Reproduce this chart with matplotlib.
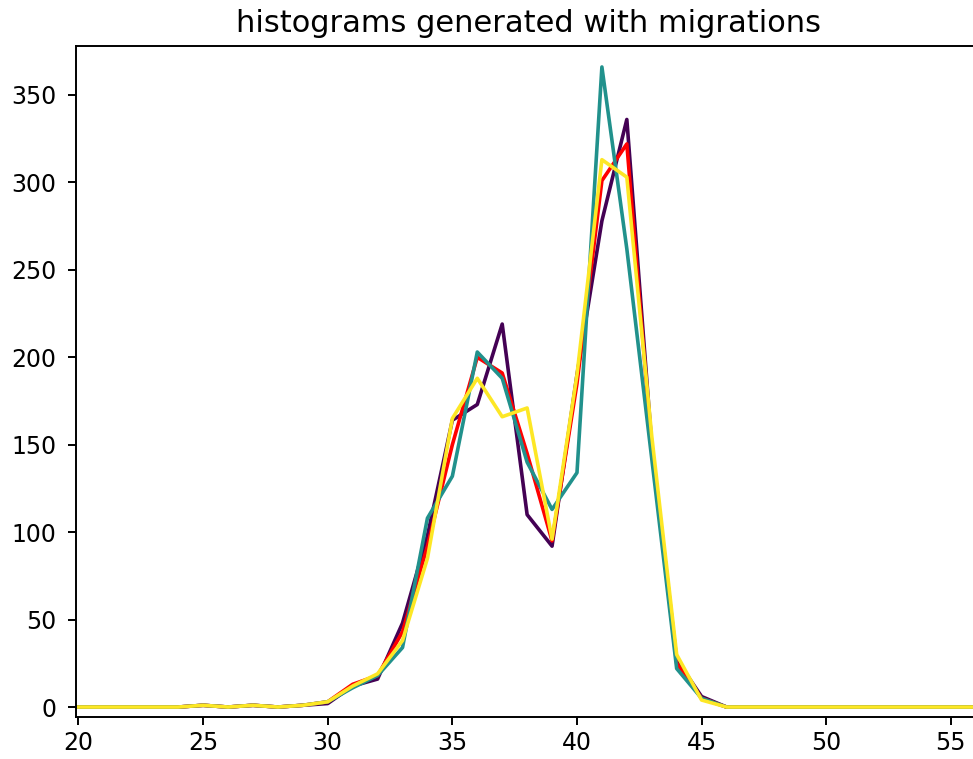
import numpy as np
import matplotlib
matplotlib.use("Agg")
import matplotlib.pyplot as plt

# bins (x) and counts of the four histograms
bins = np.arange(20, 58)

purple = [0, 0, 0, 0, 0, 1, 0, 1, 0, 1,
          2, 12, 16, 48, 98, 164, 173, 219, 110, 92,
          190, 278, 336, 150, 27, 6, 0, 0, 0, 0,
          0, 0, 0, 0, 0, 0, 0, 0]
red = [0, 0, 0, 0, 0, 1, 0, 1, 0, 1,
       3, 13, 18, 43, 92, 150, 200, 191, 145, 95,
       185, 301, 322, 148, 25, 5, 0, 0, 0, 0,
       0, 0, 0, 0, 0, 0, 0, 0]
teal = [0, 0, 0, 0, 0, 1, 0, 1, 0, 1,
        3, 11, 18, 34, 108, 132, 203, 188, 140, 113,
        134, 366, 262, 142, 22, 5, 0, 0, 0, 0,
        0, 0, 0, 0, 0, 0, 0, 0]
yellow = [0, 0, 0, 0, 0, 1, 0, 1, 0, 1,
          3, 12, 19, 38, 85, 165, 188, 166, 171, 96,
          190, 313, 303, 155, 30, 4, 0, 0, 0, 0,
          0, 0, 0, 0, 0, 0, 0, 0]

series = [purple, red, teal, yellow]
colors = ["#440154", "red", "#21918c", "#fde725"]

fig = plt.figure(figsize=(9.73, 7.59), dpi=100)
# axes run a little past the right edge, as in the cropped original
ax = fig.add_axes([76 / 973, 42 / 759, 904 / 973, 671 / 759])

for counts, c in zip(series, colors):
    ax.plot(bins, counts, color=c, linewidth=2.6)

ax.set_xlim(19.9, 56.17)
ax.set_ylim(-5.7, 378)
ax.set_xticks([20, 25, 30, 35, 40, 45, 50, 55])
ax.set_yticks([0, 50, 100, 150, 200, 250, 300, 350])
ax.tick_params(labelsize=17, length=6, width=1.4)
ax.tick_params(axis="y", pad=8)
ax.tick_params(axis="x", pad=4)
for s in ax.spines.values():
    s.set_linewidth(1.4)
ax.set_title("histograms generated with migrations", fontsize=22, pad=10)

fig.savefig("out.png", dpi=100)
